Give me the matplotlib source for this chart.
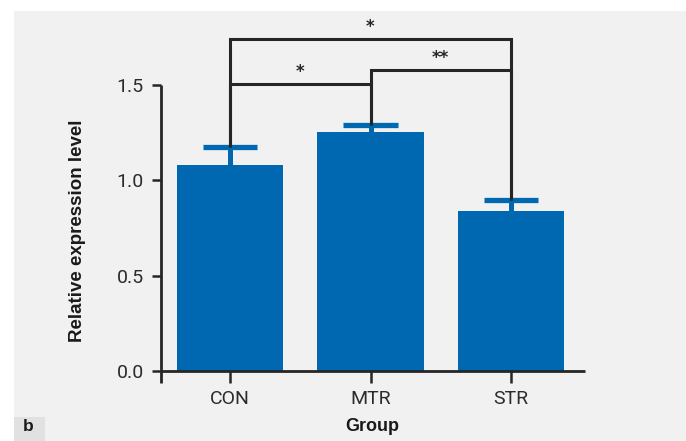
import matplotlib
matplotlib.use("Agg")
import matplotlib.pyplot as plt
from matplotlib.patches import Rectangle
from matplotlib.transforms import blended_transform_factory

# ---- data ----
groups = ["CON", "MTR", "STR"]
means = [1.08, 1.253, 0.84]
errors = [0.095, 0.037, 0.057]
yticks = [0.0, 0.5, 1.0, 1.5]
ytick_labels = ["0.0", "0.5", "1.0", "1.5"]
# significance comparisons: (left group idx, right group idx, label)
comparisons = [(0, 1, "*"), (1, 2, "**"), (0, 2, "*")]
bracket_levels = [1.505, 1.578, 1.741]

BAR = "#0067b1"
INK = "#262626"
PANEL = "#f1f1f1"

W, H = 686, 441
fig = plt.figure(figsize=(W / 100, H / 100), dpi=100)
fig.patch.set_facecolor("white")

# grey panel
fig.patches.append(Rectangle((14 / W, 0), 1 - 14 / W, (H - 11) / H,
                             transform=fig.transFigure, facecolor=PANEL,
                             edgecolor="none", zorder=-10))
fig.patches.append(Rectangle((14 / W, 0), 31 / W, 24 / H,
                             transform=fig.transFigure, facecolor="#e1e1e1",
                             edgecolor="none", zorder=-9))
fig.text(28.5 / W, 10 / H, "b", ha="center", va="baseline",
         fontsize=12.5, fontweight="bold", family="Liberation Sans", color="#1a1a1a")

ax_left, ax_right = 161, 585
ax_bottom, ax_top = 383, 11
ax = fig.add_axes([ax_left / W, (H - ax_bottom) / H,
                   (ax_right - ax_left) / W, (ax_bottom - ax_top) / H])
ax.set_facecolor("none")

ppu = 190.7
ax.set_ylim(-(ax_bottom - 371) / ppu, (371 - ax_top) / ppu)
ax.set_xlim((161 - 230) / 140.5, (585 - 230) / 140.5)

x = list(range(len(groups)))
tops = [m + e for m, e in zip(means, errors)]
ax.bar(x, means, width=0.755, color=BAR, zorder=2)
# upper error bars only
ax.vlines(x, means, tops, color=BAR, lw=3.6, zorder=2)
cap_half = 0.195
ax.hlines(tops, [xi - cap_half for xi in x], [xi + cap_half for xi in x],
          color=BAR, lw=3.8, zorder=2)

# spines
for s in ["top", "right"]:
    ax.spines[s].set_visible(False)
ax.spines["bottom"].set_position(("data", 0))
ax.spines["bottom"].set_bounds(ax.get_xlim()[0], ax.get_xlim()[1])
ax.spines["left"].set_bounds(ax.get_ylim()[0], 1.5)
for s in ["bottom", "left"]:
    ax.spines[s].set_linewidth(2.0)
    ax.spines[s].set_color(INK)
    ax.spines[s].set_capstyle("butt")

ax.set_xticks(x)
ax.set_xticklabels(groups)
ax.set_yticks(yticks)
ax.set_yticklabels(ytick_labels)
ax.tick_params(axis="x", length=8.6, width=1.8, color=INK, pad=5,
               labelsize=14, labelcolor="#2b2b2b")
ax.tick_params(axis="y", length=6.5, width=1.8, color=INK, pad=6,
               labelsize=14, labelcolor="#2b2b2b")
for lab in ax.get_xticklabels() + ax.get_yticklabels():
    lab.set_family("Roboto")
    lab.set_fontweight("normal")

ax.set_ylabel("Relative expression level", fontsize=13.5, fontweight="bold",
              family="Liberation Sans", color="#1a1a1a", va="center")
ax.yaxis.set_label_coords(-0.196, 0.734,
                          transform=blended_transform_factory(ax.transAxes, ax.transData))
ax.set_xlabel("Group", fontsize=13, fontweight="bold", family="Liberation Sans",
              color="#1a1a1a", va="baseline")
ax.xaxis.set_label_coords(372 / W, 10 / H, transform=fig.transFigure)

# significance brackets
lw = 2.2
for (i, j, lab), lvl in zip(comparisons, bracket_levels):
    ax.plot([i, i, j, j], [tops[i], lvl, lvl, tops[j]], color=INK, lw=lw,
            solid_capstyle="butt", solid_joinstyle="miter", zorder=3, clip_on=False)
    ax.text((i + j) / 2, lvl + 0.018, lab, ha="center", va="bottom", fontsize=12,
            fontweight="bold", color=INK, family="DejaVu Sans")

fig.savefig("out.png", dpi=100, facecolor=fig.get_facecolor())
